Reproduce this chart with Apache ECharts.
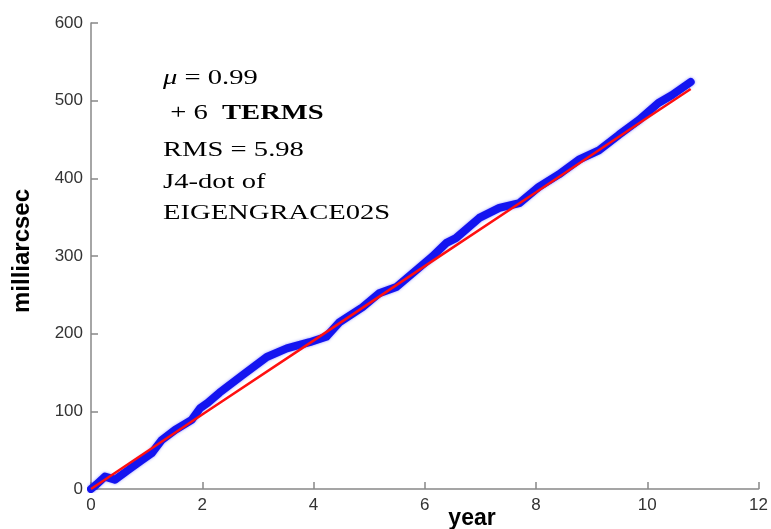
<!DOCTYPE html>
<html>
<head>
<meta charset="utf-8">
<script src="https://cdn.jsdelivr.net/npm/echarts@6/dist/echarts.min.js"></script>
<style>
  html, body { margin: 0; padding: 0; background: #fff; }
  #main { width: 771px; height: 529px; }
</style>
</head>
<body>
<div id="main"></div>
<script>
var blueYears = [0, 0.1, 0.25, 0.43, 0.66, 0.91, 1.09, 1.27, 1.51, 1.81, 1.96, 2.1, 2.31, 2.73, 3.16, 3.52, 3.93, 4.23, 4.47, 4.88, 5.18, 5.49, 5.85, 6.13, 6.39, 6.56, 6.98, 7.34, 7.7, 8.05, 8.41, 8.77, 9.13, 9.49, 9.85, 10.2, 10.44, 10.78];
var blueValues = [0, 6, 16, 12, 24, 37, 46, 63, 76, 89, 104, 111, 124, 147, 170, 181, 189, 196, 215, 234, 252, 260, 282, 299, 317, 323, 349, 362, 368, 389, 405, 424, 436, 456, 475, 497, 507, 524];
// red: fitted line
var redYears = [0, 2, 4, 6, 8, 10, 10.78];
var redValues = [0, 96, 191, 287, 382, 478, 515];
var noteLines = ["{i|\u03bc} = 0.99", " + 6  {b|TERMS}", "RMS = 5.98", "J4-dot of", "EIGENGRACE02S"];

var chart = echarts.init(document.getElementById("main"));

function pairs(xs, ys) {
  return xs.map(function (x, i) { return [x, ys[i]]; });
}

var noteY = [78, 113, 150, 182, 213];
var notes = noteLines.map(function (t, i) {
  return {
    type: "text",
    x: 163,
    y: noteY[i],
    scaleX: 1.3,
    style: {
      text: t,
      font: "22px 'Liberation Serif', serif",
      fill: "#000",
      textVerticalAlign: "middle",
      rich: {
        i: { fontStyle: "italic", fontSize: 22, fontFamily: "Liberation Serif" },
        b: { fontWeight: "bold", fontSize: 22, fontFamily: "Liberation Serif" }
      }
    }
  };
});

var axisStyle = { lineStyle: { color: "#888", width: 1.5 } };
var labelStyle = { color: "#333", fontSize: 17, fontFamily: "Liberation Sans" };

chart.setOption({
  animation: false,
  backgroundColor: "#fff",
  grid: { left: 91, right: 11, top: 23, bottom: 40 },
  xAxis: {
    type: "value",
    min: 0,
    max: 12,
    interval: 2,
    axisLine: axisStyle,
    axisTick: { inside: true, length: 7, lineStyle: { color: "#888", width: 1.5 } },
    axisLabel: Object.assign({ margin: 8 }, labelStyle),
    splitLine: { show: false }
  },
  yAxis: {
    type: "value",
    min: 0,
    max: 600,
    interval: 100,
    axisLine: Object.assign({ show: true }, axisStyle),
    axisTick: { show: true, inside: true, length: 7, lineStyle: { color: "#888", width: 1.5 } },
    axisLabel: Object.assign({ margin: 8 }, labelStyle),
    splitLine: { show: false }
  },
  graphic: notes.concat([
    {
      type: "text",
      x: 472,
      y: 519,
      style: {
        text: "year",
        font: "bold 23px 'Liberation Sans', sans-serif",
        fill: "#000",
        textAlign: "center",
        textVerticalAlign: "middle"
      }
    },
    {
      type: "text",
      x: 22,
      y: 251,
      rotation: Math.PI / 2,
      style: {
        text: "milliarcsec",
        font: "bold 24px 'Liberation Sans', sans-serif",
        fill: "#000",
        textAlign: "center",
        textVerticalAlign: "middle"
      }
    }
  ]),
  series: [
    {
      name: "data",
      type: "line",
      data: pairs(blueYears, blueValues),
      symbol: "none",
      lineStyle: { color: "#1414f0", width: 8, cap: "round", join: "round", shadowColor: "rgba(40,40,255,0.5)", shadowBlur: 3 },
      z: 2
    },
    {
      name: "fit",
      type: "line",
      data: pairs(redYears, redValues),
      symbol: "none",
      lineStyle: { color: "#ff1010", width: 2.5 },
      z: 3
    }
  ]
});
</script>
</body>
</html>
